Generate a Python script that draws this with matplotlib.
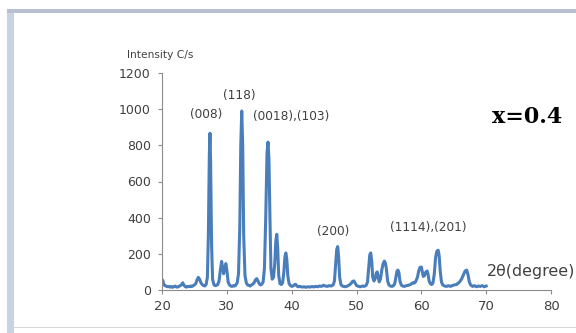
import numpy as np
import matplotlib
matplotlib.use("Agg")
import matplotlib.pyplot as plt
from matplotlib.patches import Rectangle

# XRD pattern, x=0.4 sample
two_theta = [
    20.0, 20.1, 20.25, 20.4, 20.6, 20.8, 21.0, 21.2, 21.4, 21.6, 21.8, 22.0, 22.2, 22.4, 22.6,
    22.8, 23.0, 23.2, 23.4, 23.6, 23.8, 24.0, 24.2, 24.4, 24.6, 24.8, 25.0, 25.2, 25.4, 25.6,
    25.8, 26.0, 26.2, 26.4, 26.6, 26.8, 27.0, 27.15, 27.3, 27.4, 27.5, 27.65, 27.8, 28.0, 28.2,
    28.4, 28.6, 28.8, 29.0, 29.2, 29.35, 29.5, 29.65, 29.85, 30.0, 30.2, 30.4, 30.6, 30.8, 31.0,
    31.2, 31.4, 31.6, 31.8, 32.0, 32.15, 32.3, 32.45, 32.6, 32.8, 33.0, 33.2, 33.4, 33.6, 33.8,
    34.0, 34.2, 34.4, 34.6, 34.8, 35.0, 35.2, 35.4, 35.6, 35.8, 36.0, 36.2, 36.35, 36.5, 36.65,
    36.8, 37.0, 37.2, 37.4, 37.55, 37.7, 37.85, 38.0, 38.2, 38.4, 38.6, 38.8, 38.95, 39.1, 39.25,
    39.4, 39.6, 39.8, 40.0, 40.2, 40.4, 40.6, 40.8, 41.0, 41.3, 41.6, 41.9, 42.2, 42.5, 42.8,
    43.1, 43.4, 43.7, 44.0, 44.3, 44.6, 44.9, 45.2, 45.5, 45.8, 46.1, 46.4, 46.6, 46.8, 46.95,
    47.1, 47.25, 47.4, 47.6, 47.8, 48.0, 48.3, 48.6, 48.9, 49.2, 49.4, 49.6, 49.8, 50.0, 50.3,
    50.6, 50.9, 51.2, 51.5, 51.7, 51.9, 52.05, 52.2, 52.35, 52.5, 52.7, 52.9, 53.05, 53.2, 53.35,
    53.5, 53.7, 53.9, 54.1, 54.3, 54.45, 54.6, 54.8, 55.0, 55.2, 55.5, 55.7, 55.9, 56.1, 56.25,
    56.4, 56.55, 56.7, 56.9, 57.1, 57.4, 57.7, 58.0, 58.3, 58.5, 58.7, 58.9, 59.1, 59.4, 59.6,
    59.8, 60.0, 60.15, 60.3, 60.5, 60.7, 60.9, 61.05, 61.2, 61.4, 61.6, 61.8, 62.0, 62.2, 62.4,
    62.6, 62.75, 62.9, 63.1, 63.3, 63.6, 63.9, 64.2, 64.5, 64.8, 65.1, 65.4, 65.7, 65.9, 66.2,
    66.5, 66.75, 67.0, 67.2, 67.4, 67.6, 67.9, 68.2, 68.5, 68.8, 69.1, 69.4, 69.7, 70.0,
]
intensity = [
    40, 55, 35, 25, 22, 18, 20, 16, 19, 15, 18, 22, 17, 16, 20,
    24, 28, 40, 26, 18, 16, 20, 18, 22, 19, 24, 28, 35, 55, 70,
    60, 40, 30, 25, 22, 30, 70, 300, 750, 867, 700, 250, 60, 30, 24,
    26, 30, 50, 110, 158, 120, 90, 120, 146, 110, 45, 28, 22, 20, 24,
    22, 28, 40, 90, 350, 800, 990, 800, 300, 80, 40, 28, 25, 22, 28,
    32, 40, 55, 63, 50, 35, 28, 32, 45, 120, 400, 760, 818, 720, 400,
    120, 60, 70, 150, 270, 308, 230, 80, 35, 30, 40, 100, 180, 205, 170,
    80, 35, 25, 20, 22, 28, 32, 22, 18, 20, 16, 18, 15, 18, 16,
    19, 17, 20, 18, 22, 20, 26, 22, 20, 24, 22, 28, 50, 150, 225,
    240, 180, 70, 30, 22, 20, 18, 22, 28, 38, 48, 50, 38, 25, 20,
    18, 22, 20, 26, 45, 130, 195, 205, 160, 70, 50, 65, 95, 100, 70,
    45, 60, 110, 145, 160, 150, 120, 50, 28, 22, 20, 24, 35, 75, 105,
    110, 95, 50, 28, 22, 20, 24, 26, 30, 35, 40, 38, 45, 70, 105,
    125, 127, 100, 75, 80, 100, 105, 85, 50, 35, 30, 40, 90, 180, 215,
    220, 190, 110, 45, 28, 22, 20, 24, 20, 25, 28, 30, 38, 45, 60,
    85, 105, 110, 85, 45, 28, 20, 24, 18, 22, 20, 24, 18, 22,
]

x_ticks = [20, 30, 40, 50, 60, 70, 80]
y_ticks = [0, 200, 400, 600, 800, 1000, 1200]

# peak labels: text, x, y (data units)
peak_labels = ["(008)", "(118)", "(0018),(103)", "(200)", "(1114),(201)"]
label_x = [26.8, 31.95, 40.0, 46.4, 61.1]
label_y = [973, 1073, 962, 321, 348]

line_col = "#4a7ebb"
text_col = "#404040"
axis_col = "#8c8c8c"

fig = plt.figure(figsize=(5.76, 3.33), dpi=100)
fig.patch.set_facecolor("white")

# chart-area frame (left / top bands and bottom line)
W, H = 576.0, 333.0
fig.add_artist(Rectangle((7 / W, 0), 7 / W, (H - 9) / H, transform=fig.transFigure,
                         facecolor="#c8d2e2", edgecolor="none"))
fig.add_artist(Rectangle((7 / W, (H - 13) / H), 1, 4 / H, transform=fig.transFigure,
                         facecolor="#b7c0cf", edgecolor="none"))
fig.add_artist(Rectangle((14 / W, (H - 328) / H), 1, 1.5 / H, transform=fig.transFigure,
                         facecolor="#d6d6d6", edgecolor="none"))

ax = fig.add_axes([162 / W, (H - 290) / H, (551 - 162) / W, (290 - 73) / H])
ax.plot(two_theta, intensity, color=line_col, lw=2.2, solid_joinstyle="round")

ax.set_xlim(20, 80)
ax.set_ylim(0, 1200)
ax.set_xticks(x_ticks)
ax.set_yticks(y_ticks)
ax.tick_params(axis="y", direction="out", length=3, width=0.8, color=axis_col,
               labelsize=9, labelcolor=text_col, pad=5)
ax.tick_params(axis="x", direction="out", length=3, width=0.8, color=axis_col,
               labelsize=9.5, labelcolor=text_col, pad=4)
for s in ["top", "right"]:
    ax.spines[s].set_visible(False)
for s in ["left", "bottom"]:
    ax.spines[s].set_color(axis_col)
    ax.spines[s].set_linewidth(0.8)

for txt, lx, ly in zip(peak_labels, label_x, label_y):
    ax.text(lx, ly, txt, ha="center", va="center", fontsize=8.7, color=text_col, clip_on=False)

ax.text(14.6, 1300, "Intensity C/s", ha="left", va="center", fontsize=7.7,
        color=text_col, clip_on=False)
ax.text(70.1, 105, "2θ(degree)", ha="left", va="center", fontsize=11.4,
        color=text_col, clip_on=False)
ax.text(70.9, 924, "x=0.4", ha="left", va="baseline", fontsize=16,
        family="DejaVu Serif", fontweight="bold", color="black", clip_on=False)

plt.savefig("out.png", dpi=100)
